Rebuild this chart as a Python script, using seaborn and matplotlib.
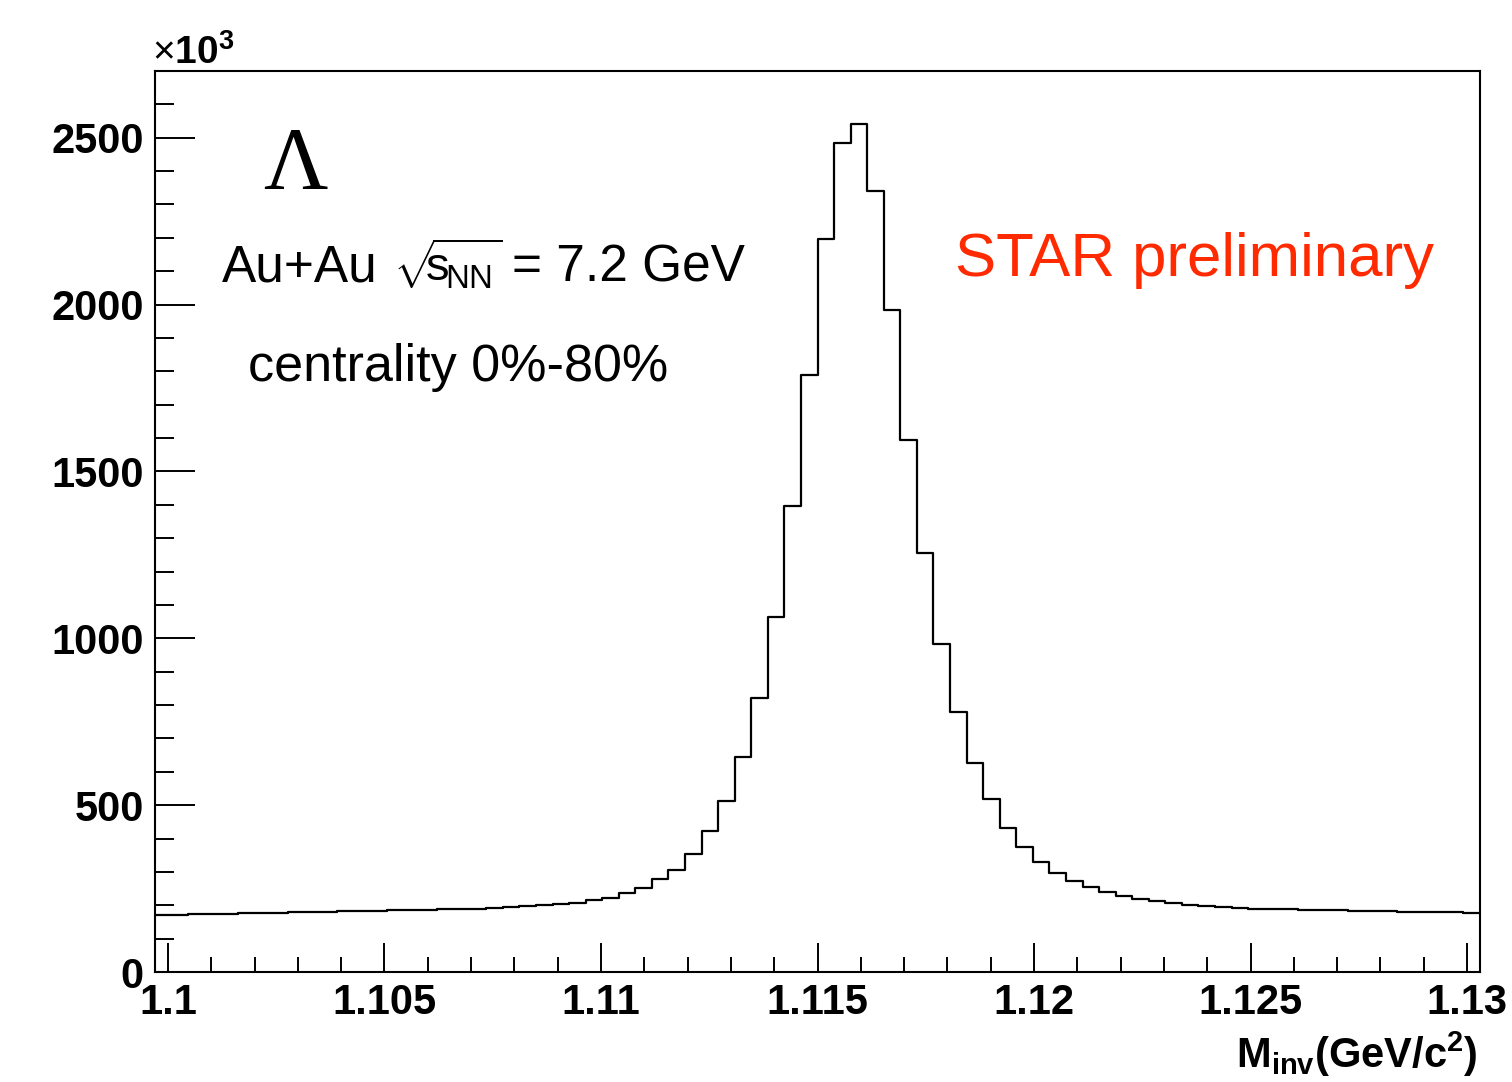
import matplotlib
matplotlib.use("Agg")
import matplotlib.pyplot as plt
import matplotlib.ticker as mticker
import numpy as np
import pandas as pd
import seaborn as sns

# Lambda invariant mass histogram, counts in units of 10^3 (80 bins)
bin_lo, bin_hi, n_bins = 1.0997, 1.1303, 80
counts = [
    171, 172, 173, 174, 175, 176, 177, 178, 179, 180,
    181, 182, 183, 184, 185, 186, 187, 188, 189, 190,
    192, 194, 197, 200, 204, 208, 215, 222, 236, 252,
    278, 307, 355, 422, 512, 643, 820, 1064, 1395, 1788,
    2197, 2484, 2542, 2340, 1985, 1595, 1257, 982, 779, 627,
    517, 433, 375, 329, 297, 272, 254, 240, 228, 219,
    214, 207, 201, 197, 194, 191, 190, 189, 188, 187,
    186, 185, 184, 183, 182, 181, 180, 179.5, 179, 178,
]

edges = np.linspace(bin_lo, bin_hi, n_bins + 1)
df = pd.DataFrame({"m": (edges[:-1] + edges[1:]) / 2, "n": counts})

sns.set_style("ticks", {"axes.edgecolor": "black", "text.color": "black",
                        "xtick.color": "black", "ytick.color": "black"})
plt.rcParams["font.family"] = ["Liberation Sans", "DejaVu Sans"]
plt.rcParams["mathtext.fontset"] = "custom"
plt.rcParams["mathtext.rm"] = "Liberation Sans"
plt.rcParams["mathtext.it"] = "Liberation Sans"
plt.rcParams["mathtext.bf"] = "Liberation Sans:bold"

W, H = 1512, 1082
fig = plt.figure(figsize=(W / 100, H / 100), dpi=100)
ax = fig.add_axes([155 / W, 1 - 972 / H, (1480 - 155) / W, (972 - 71) / H])


def px(x, y):
    return x / W, 1 - y / H


sns.histplot(data=df, x="m", weights="n", bins=n_bins, binrange=(bin_lo, bin_hi),
             element="step", fill=False, color="black", linewidth=1.6, ax=ax)

ax.set_xlim(bin_lo, bin_hi)
ax.set_ylim(0, 2700)
ax.set_xlabel("")
ax.set_ylabel("")

ax.xaxis.set_major_locator(mticker.FixedLocator([1.1, 1.105, 1.11, 1.115, 1.12, 1.125, 1.13]))
ax.xaxis.set_minor_locator(mticker.MultipleLocator(0.001))
ax.xaxis.set_major_formatter(mticker.FuncFormatter(lambda v, p: f"{v:g}"))
ax.yaxis.set_major_locator(mticker.MultipleLocator(500))
ax.yaxis.set_minor_locator(mticker.MultipleLocator(100))

for s in ax.spines.values():
    s.set_linewidth(1.5)
    s.set_color("black")
    s.set_visible(True)

ax.tick_params(axis="y", which="major", direction="in", length=29, width=1.4,
               labelsize=30, pad=8, colors="black")
ax.tick_params(axis="y", which="minor", direction="in", length=14, width=1.4, colors="black")
ax.tick_params(axis="x", which="major", direction="in", length=21, width=1.4,
               labelsize=30, pad=8, colors="black")
ax.tick_params(axis="x", which="minor", direction="in", length=11, width=1.4, colors="black")
for lab in ax.get_xticklabels() + ax.get_yticklabels():
    lab.set_fontweight("bold")

fig.text(*px(152, 64), r"$\times\mathbf{10^{3}}$", fontsize=28, ha="left", va="baseline")
fig.text(*px(1478, 1068), r"$\mathbf{M_{inv}(GeV/c^{2})}$", fontsize=30,
         ha="right", va="baseline")

fig.text(*px(295, 188), "Λ", fontsize=64, ha="center", va="baseline",
         family=["Liberation Serif", "DejaVu Serif"])
# energy label in three pieces so the root sign sits where it does in the original
fig.text(*px(222, 281), "Au+Au", fontsize=37, ha="left", va="baseline")
fig.text(*px(393, 281), r"$\sqrt{\!\!\mathrm{s}_{\!\mathrm{NN}}}$", fontsize=34,
         ha="left", va="baseline")
fig.text(*px(512, 281), "= 7.2 GeV", fontsize=37, ha="left", va="baseline")
fig.text(*px(248, 381), "centrality 0%-80%", fontsize=37.5, ha="left", va="baseline")
fig.text(*px(955, 276), "STAR preliminary", fontsize=44.5, color="#ff2a00",
         ha="left", va="baseline")

fig.savefig("out.png", dpi=100)
